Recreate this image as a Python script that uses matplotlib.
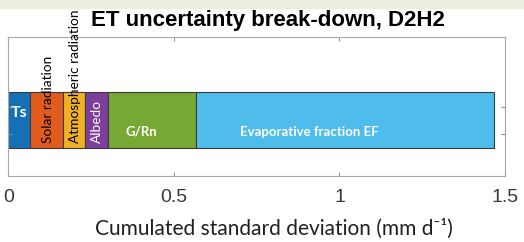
import matplotlib.pyplot as plt
from matplotlib.patches import Rectangle

# cumulated standard deviation at the end of each term (mm/d)
terms = ["Ts", "Solar radiation", "Atmospheric radiation", "Albedo", "G/Rn",
         "Evaporative fraction EF"]
cum_ends = [0.065, 0.165, 0.232, 0.301, 0.567, 1.467]
colors = ["#1670b8", "#e05b1c", "#f0b024", "#7e3f9c", "#78a834", "#4fbdec"]
text_colors = ["white", "black", "black", "white", "white", "white"]
rotated = [False, True, True, True, False, False]
xticks = [0, 0.5, 1, 1.5]
xtick_labels = ["0", "0.5", "1", "1.5"]

# where the label sits inside its segment (0 = left edge, 1 = right edge)
label_pos = [0.49, 0.54, 0.54, 0.51, 0.38, 0.38]

fig = plt.figure(figsize=(5.24, 2.42), dpi=100)
fig.patches.append(Rectangle((0, 1 - 8 / 242), 1, 8 / 242, transform=fig.transFigure,
                             color="#ebefde", zorder=0))
ax = fig.add_axes([0.0162, 0.2727, 0.9475, 0.574])

starts = [0] + cum_ends[:-1]
for name, s, e, c, tc, rot, f in zip(terms, starts, cum_ends, colors, text_colors,
                                      rotated, label_pos):
    ax.barh(0.403, e - s, left=s, height=0.403, color=c, edgecolor="#3a3a3a", linewidth=0.8)
    x = s + f * (e - s)
    if rot:
        ax.text(x, 0.237, name, rotation=90, rotation_mode="anchor",
                ha="left", va="center", color=tc, fontsize=9.8, family="Lato",
                clip_on=False)
    elif name == "Ts":
        ax.text(x, 0.455, name, ha="center", va="center", color=tc,
                fontsize=11.5, fontweight="bold", family="Lato")
    else:
        ax.text(x, 0.317, name, ha="center", va="center", color=tc,
                fontsize=9.5, fontweight="bold", family="Lato")

ax.set_xlim(0, 1.5)
ax.set_ylim(0, 1)
ax.set_xticks(xticks)
ax.set_xticklabels(xtick_labels, family="Liberation Sans", fontsize=14, color="#383838")
ax.set_yticks([0.302, 0.496])
ax.set_yticklabels([])
ax.tick_params(direction="in", length=3, color="#909090", top=True, right=True, pad=9)
for sp in ax.spines.values():
    sp.set_color("#a8a8a8")
    sp.set_linewidth(0.8)

ax.set_xlabel("Cumulated standard deviation (mm d\u207b\u00b9)", family=["Lato", "DejaVu Sans"],
              fontsize=15, color="#202020")
ax.xaxis.set_label_coords(0.535, -0.305)
fig.text(0.512, 0.917, "ET uncertainty break-down, D2H2", ha="center", va="center",
         family="Liberation Sans", fontweight="bold", fontsize=16)

fig.savefig("out.png", dpi=100)
